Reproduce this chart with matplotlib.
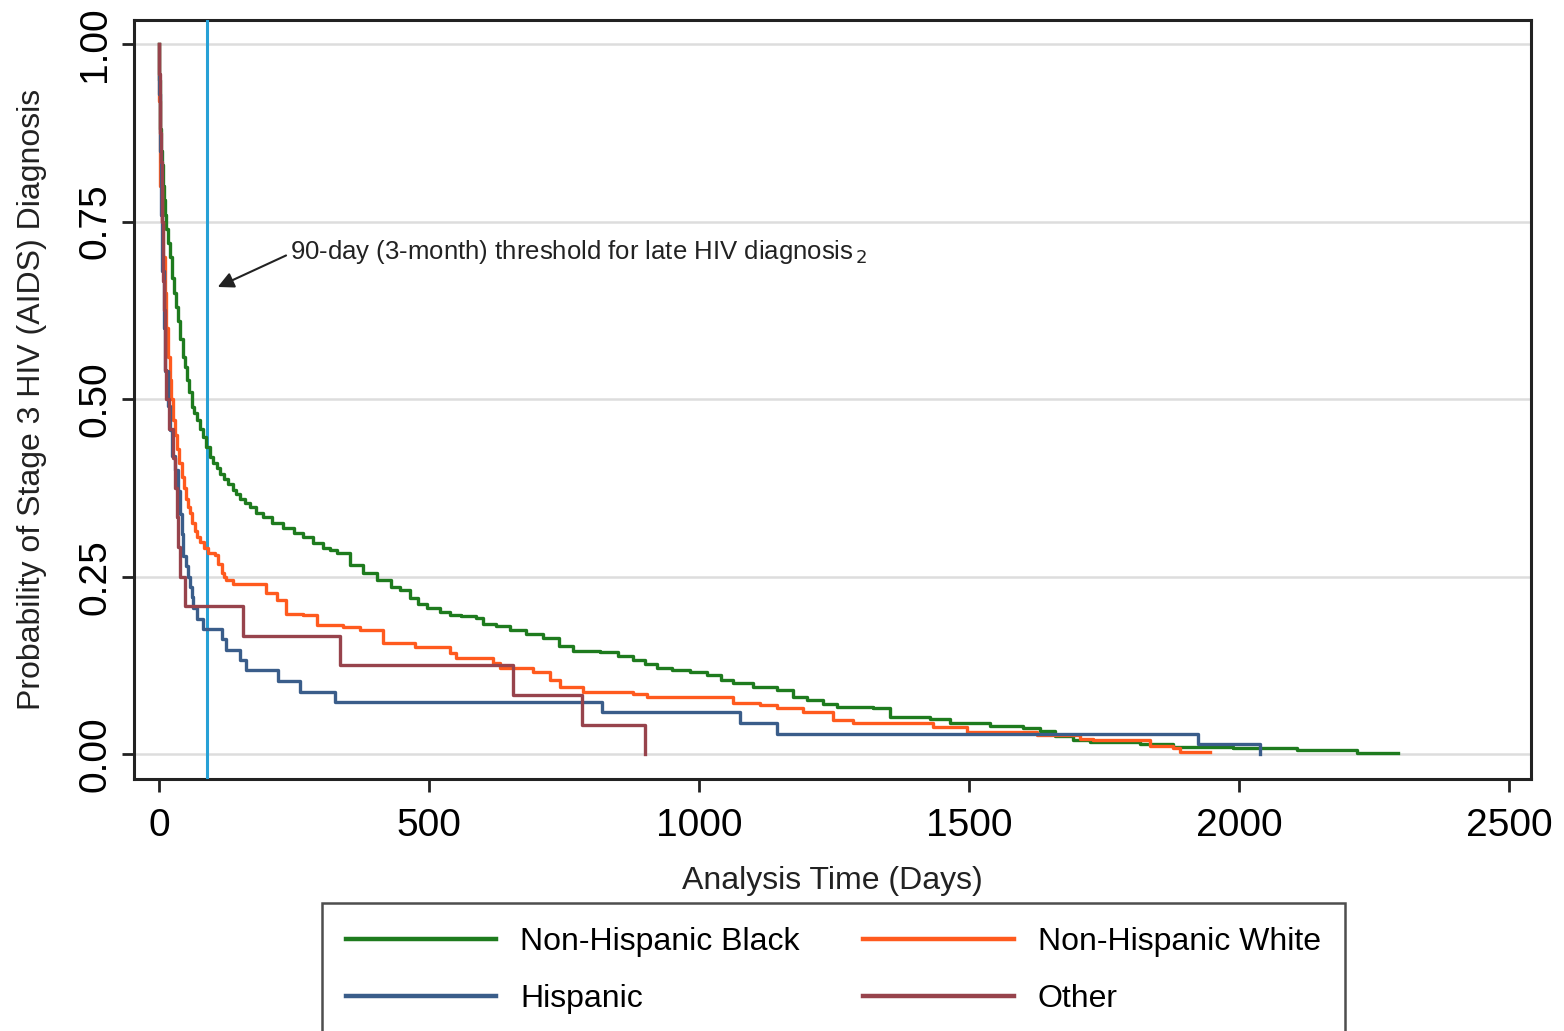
import numpy as np
import matplotlib.pyplot as plt

plt.rcParams['font.family'] = ['Liberation Sans', 'DejaVu Sans']

# Kaplan-Meier style curves (days, survival probability)
black_days = [0, 1, 2, 3, 4, 5, 7, 9, 11, 14, 17, 20, 24, 28, 31, 35, 40, 45, 48, 52, 56, 61,
              65, 70, 76, 82, 88, 94, 100, 107, 113, 120, 128, 137, 143, 150, 159, 168, 180,
              193, 210, 230, 250, 267, 285, 304, 317, 329, 354, 378, 403, 430, 446, 465, 480,
              496, 520, 539, 560, 588, 600, 625, 650, 680, 711, 740, 767, 790, 817, 850, 878,
              900, 922, 950, 983, 1015, 1040, 1063, 1100, 1144, 1174, 1200, 1230, 1255, 1323,
              1354, 1428, 1465, 1539, 1600, 1631, 1660, 1693, 1724, 1817, 1878, 1989, 2107,
              2218, 2294]
black_surv = [1.0, 0.95, 0.91, 0.88, 0.85, 0.83, 0.80, 0.78, 0.76, 0.74, 0.72, 0.70, 0.67, 0.65,
              0.63, 0.61, 0.585, 0.56, 0.545, 0.527, 0.51, 0.489, 0.48, 0.47, 0.458, 0.447,
              0.432, 0.418, 0.41, 0.403, 0.395, 0.388, 0.38, 0.372, 0.366, 0.36, 0.354, 0.348,
              0.34, 0.334, 0.326, 0.318, 0.312, 0.306, 0.298, 0.29, 0.287, 0.283, 0.266, 0.255,
              0.245, 0.236, 0.231, 0.22, 0.212, 0.206, 0.2, 0.196, 0.194, 0.192, 0.184, 0.18,
              0.175, 0.169, 0.163, 0.153, 0.146, 0.145, 0.144, 0.138, 0.132, 0.127, 0.121,
              0.118, 0.116, 0.111, 0.105, 0.1, 0.095, 0.09, 0.08, 0.076, 0.07, 0.066, 0.065,
              0.052, 0.049, 0.044, 0.039, 0.037, 0.032, 0.026, 0.02, 0.017, 0.015, 0.01, 0.008,
              0.006, 0.002, 0.002]

white_days = [0, 1, 2, 3, 5, 8, 11, 14, 17, 20, 23, 26, 29, 33, 37, 42, 46, 50, 54, 57, 62,
              66, 71, 76, 84, 91, 104, 110, 116, 121, 125, 137, 199, 218, 236, 267, 292, 341,
              372, 415, 475, 539, 551, 619, 631, 693, 724, 743, 785, 878, 903, 1063, 1113,
              1144, 1193, 1248, 1285, 1433, 1496, 1626, 1706, 1730, 1835, 1878, 1891, 1946]
white_surv = [1.0, 0.92, 0.85, 0.80, 0.75, 0.70, 0.65, 0.60, 0.56, 0.527, 0.50, 0.47, 0.45,
              0.43, 0.41, 0.39, 0.375, 0.36, 0.348, 0.339, 0.325, 0.315, 0.306, 0.299, 0.29,
              0.283, 0.28, 0.268, 0.255, 0.25, 0.245, 0.239, 0.227, 0.217, 0.198, 0.196, 0.182,
              0.179, 0.175, 0.157, 0.151, 0.142, 0.135, 0.128, 0.121, 0.116, 0.104, 0.095,
              0.088, 0.085, 0.08, 0.072, 0.069, 0.065, 0.059, 0.048, 0.044, 0.038, 0.031,
              0.027, 0.022, 0.02, 0.011, 0.008, 0.003, 0.003]

hisp_days = [0, 1, 2, 4, 6, 9, 12, 16, 20, 25, 30, 35, 39, 42, 45, 50, 54, 58, 61, 64, 70, 81,
             116, 125, 150, 162, 221, 261, 326, 820, 1076, 1144, 1924, 2039]
hisp_surv = [1.0, 0.93, 0.85, 0.76, 0.68, 0.60, 0.54, 0.49, 0.456, 0.42, 0.40, 0.37, 0.338,
             0.31, 0.279, 0.265, 0.25, 0.235, 0.221, 0.206, 0.191, 0.176, 0.162, 0.147, 0.132,
             0.118, 0.103, 0.088, 0.074, 0.059, 0.044, 0.029, 0.015, 0.0]

other_days = [0, 1, 2, 3, 4, 5, 6, 7, 8, 10, 11, 12, 14, 18, 26, 30, 33, 35, 39, 48, 155, 335,
              656, 783, 900]
other_left = [24, 23, 22, 21, 20, 19, 18, 17, 16, 15, 14, 13, 12, 11, 10, 9, 8, 7, 6, 5, 4, 3,
              2, 1, 0]

groups = ['Non-Hispanic Black', 'Non-Hispanic White', 'Hispanic', 'Other']
colors = ['#1e7b1e', '#ff5a1e', '#3a5d8a', '#97434c']

fig = plt.figure(figsize=(15.64, 10.31), dpi=100)
ax = fig.add_axes([0.0857, 0.2444, 0.8933, 0.7362])

ax.axvline(90, color='#27a1d6', lw=2.2, zorder=3)

series = [(black_days, black_surv), (white_days, white_surv), (hisp_days, hisp_surv),
          (other_days, np.array(other_left) / 24)]
lines = []
for (d, s), name, c in zip(series, groups, colors):
    ln, = ax.step(d, s, where='post', color=c, lw=2.4, label=name, zorder=4)
    lines.append(ln)

ax.set_xlim(-46, 2541)
ax.set_ylim(-0.035, 1.034)
ax.set_xticks([0, 500, 1000, 1500, 2000, 2500])
ax.set_yticks([0, 0.25, 0.5, 0.75, 1.0])
ax.set_yticklabels(['0.00', '0.25', '0.50', '0.75', '1.00'], rotation=90, va='center')
ax.tick_params(labelsize=28, length=9, width=2, color='#222222')
ax.tick_params(axis='x', pad=12)
ax.tick_params(axis='y', pad=6)
ax.grid(axis='y', color='#dddddd', lw=1.8)
ax.set_axisbelow(True)
for sp in ax.spines.values():
    sp.set_linewidth(2.2)
    sp.set_color('#222222')

ax.set_xlabel('Analysis Time (Days)', fontsize=23, labelpad=16, color='#222222')
ax.set_ylabel('Probability of Stage 3 HIV (AIDS) Diagnosis', fontsize=23, labelpad=22,
              color='#222222')

ax.annotate('90-day (3-month) threshold for late HIV diagnosis$_{\\,2}$',
            xy=(109, 0.658), xytext=(243, 0.707), fontsize=18.5, va='center',
            color='#222222',
            arrowprops=dict(arrowstyle='-|>', color='#222222', lw=1.5, mutation_scale=24,
                            relpos=(0, 0.45), shrinkA=1, shrinkB=0))

# row-wise legend: Black, White / Hispanic, Other
order = [0, 2, 1, 3]
leg = fig.legend([lines[i] for i in order], [groups[i] for i in order],
                 loc='upper left', bbox_to_anchor=(322 / 1564, 1 - 903 / 1031), ncol=2,
                 fontsize=23, frameon=True, fancybox=False, handlelength=4.7,
                 handletextpad=0.75, columnspacing=2.0, borderpad=0.75, labelspacing=0.85,
                 borderaxespad=0)
leg.get_frame().set_edgecolor('#222222')
leg.get_frame().set_linewidth(1.8)
for line in leg.get_lines():
    line.set_linewidth(3.2)

fig.savefig('out.png', dpi=100)
